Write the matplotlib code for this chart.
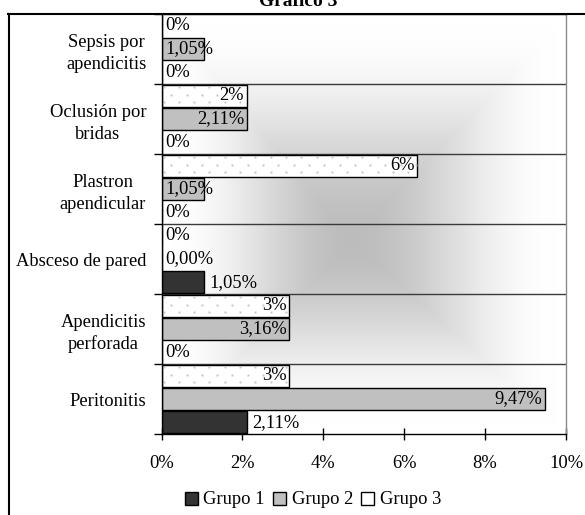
import numpy as np
import matplotlib
matplotlib.use("Agg")
import matplotlib.pyplot as plt
from matplotlib.lines import Line2D
from matplotlib.patches import Patch

# ---------------- data ----------------
categories = ["Sepsis por\napendicitis", "Oclusión por\nbridas", "Plastron\napendicular",
              "Absceso de pared", "Apendicitis\nperforada", "Peritonitis"]
grupo1 = [0, 0, 0, 1.05, 0, 2.11]
grupo2 = [1.05, 2.11, 1.05, 0.00, 3.16, 9.47]
grupo3 = [0, 2.11, 6.32, 0, 3.16, 3.16]
labels1 = ["0%", "0%", "0%", "1,05%", "0%", "2,11%"]
labels2 = ["1,05%", "2,11%", "1,05%", "0,00%", "3,16%", "9,47%"]
labels3 = ["0%", "2%", "6%", "0%", "3%", "3%"]
xticks = [0, 2, 4, 6, 8, 10]
xticklabels = ["0%", "2%", "4%", "6%", "8%", "10%"]
series_names = ["Grupo 1", "Grupo 2", "Grupo 3"]
title = "Gráfico 3"

# ---------------- style ----------------
FONT = "Liberation Serif"
FS = 13.3
plt.rcParams["font.family"] = [FONT, "DejaVu Serif"]

W, H = 585, 515
fig = plt.figure(figsize=(W / 100, H / 100), dpi=100)
fig.patch.set_facecolor("white")

left, right, top, bottom = 161.5, 566, 14, 434
ax = fig.add_axes([left / W, 1 - bottom / H, (right - left) / W, (bottom - top) / H])

n = len(categories)
ypos = np.arange(n)[::-1].astype(float)  # first category on top
off = 0.33
bh = 0.32

ax.set_xlim(0, 10)
ax.set_ylim(-0.5, n - 0.5)

# background gradient (rectangular from centre)
gx = np.linspace(0, 1, 300)
gy = np.linspace(0, 1, 300)
X, Y = np.meshgrid(gx, gy)
cx, cy = 0.47, 0.54   # centre in axes fraction (y from top)
u = np.where(X < cx, (cx - X) / cx, (X - cx) / (1 - cx))
v = np.where(Y < cy, (cy - Y) / cy, (Y - cy) / (1 - cy))
t = np.clip(np.maximum(u, v) / 0.95, 0, 1)
s = t * t * (3 - 2 * t)
val = 0.74 + (1 - 0.74) * s
img = np.dstack([val, val, val])
ax.imshow(img, extent=[0, 10, -0.5, n - 0.5], origin="upper", aspect="auto",
          zorder=0, interpolation="bilinear")

# gridlines at category boundaries
for b in np.arange(-0.5, n - 0.4, 1.0)[1:-1]:
    ax.axhline(b, color="#3a3a3a", lw=1.0, zorder=1)

# bars
ax.barh(ypos - off, grupo1, height=bh, color="#333333", edgecolor="black", lw=1.0, zorder=3)
ax.barh(ypos, grupo2, height=bh, color="#c0c0c0", edgecolor="black", lw=1.0, zorder=3)
bars3 = ax.barh(ypos + off, grupo3, height=bh, color="white", edgecolor="black", lw=1.0,
                zorder=3)

# sparse dotted texture inside grupo 3 bars
px_x = 10.0 / (right - left)          # data units per pixel (x)
px_y = n / (bottom - top)             # data units per pixel (y)
for rect in bars3:
    w = rect.get_width()
    if w <= 0:
        continue
    y1 = rect.get_y() + rect.get_height()
    y0 = rect.get_y()
    rows = np.arange(y1 - 2.7 * px_y, y0, -7.3 * px_y)
    dx, dy = [], []
    for k, yy in enumerate(rows):
        start = 17.3 if k % 2 == 0 else 9.7
        xs = np.arange(start * px_x, w, 15.3 * px_x)
        if k % 2 == 0:
            xs = np.concatenate([[2.0 * px_x], xs])
        dx.extend(xs)
        dy.extend([yy] * len(xs))
    ax.plot(dx, dy, ls="none", marker="s", ms=1.4, mew=0, color="#c4c4c4", zorder=3.2,
            clip_path=rect)

# data labels
def put(xv, yv, s, mode):
    if mode == "zero":
        ax.annotate(s, (0, yv), xytext=(2.5, 0), textcoords="offset points",
                    ha="left", va="center", fontsize=FS, zorder=5)
    elif mode == "out":
        ax.annotate(s, (xv, yv), xytext=(4, 0), textcoords="offset points",
                    ha="left", va="center", fontsize=FS, zorder=5)
    else:
        ax.annotate(s, (xv, yv), xytext=(-2, 0), textcoords="offset points",
                    ha="right", va="center", fontsize=FS, zorder=5)

for i in range(n):
    put(grupo1[i], ypos[i] - off, labels1[i], "zero" if grupo1[i] == 0 else "out")
    put(grupo2[i], ypos[i], labels2[i], "zero" if grupo2[i] < 1.5 else "in")
    put(grupo3[i], ypos[i] + off, labels3[i], "zero" if grupo3[i] < 1.5 else "in")

# axes styling
ax.spines["top"].set_color("black")
ax.spines["right"].set_color("#8a8a8a")
ax.spines["left"].set_color("black")
ax.spines["bottom"].set_color("black")
for sp in ax.spines.values():
    sp.set_linewidth(1.0)
    sp.set_zorder(4)

ax.set_xticks(xticks)
ax.set_xticklabels(xticklabels, fontsize=FS)
ax.tick_params(axis="x", direction="inout", length=8, width=1, pad=11)

ax.set_yticks(ypos)
ax.set_yticklabels(categories, fontsize=FS, multialignment="center", linespacing=1.35)
ax.tick_params(axis="y", which="major", length=0, pad=11)
ax.set_yticks(np.arange(-0.5, n, 1.0), minor=True)
ax.tick_params(axis="y", which="minor", direction="out", length=6, width=1)

# legend
handles = [Patch(facecolor="#333333", edgecolor="black", lw=1.0),
           Patch(facecolor="#c0c0c0", edgecolor="black", lw=1.0),
           Patch(facecolor="white", edgecolor="black", lw=1.0)]
fig.legend(handles, series_names, loc="center", bbox_to_anchor=(313 / W, 1 - 500 / H),
           ncol=3, frameon=False, fontsize=FS, handlelength=0.7, handleheight=0.7,
           handletextpad=0.3, columnspacing=0.45, borderaxespad=0)

# outer chart border (partially cropped)
fig.add_artist(Line2D([8.5 / W, 8.5 / W], [0, 1 - 14 / H], transform=fig.transFigure,
                      color="black", lw=1.5))
fig.add_artist(Line2D([8 / W, 1], [1 - 14 / H, 1 - 14 / H], transform=fig.transFigure,
                      color="black", lw=1.5))

# title (mostly cropped at the top, as in the reference)
fig.text(298 / W, 1 - 6 / H, title, ha="center", va="baseline", fontsize=14,
         fontweight="bold")

fig.savefig("out.png", dpi=100)
